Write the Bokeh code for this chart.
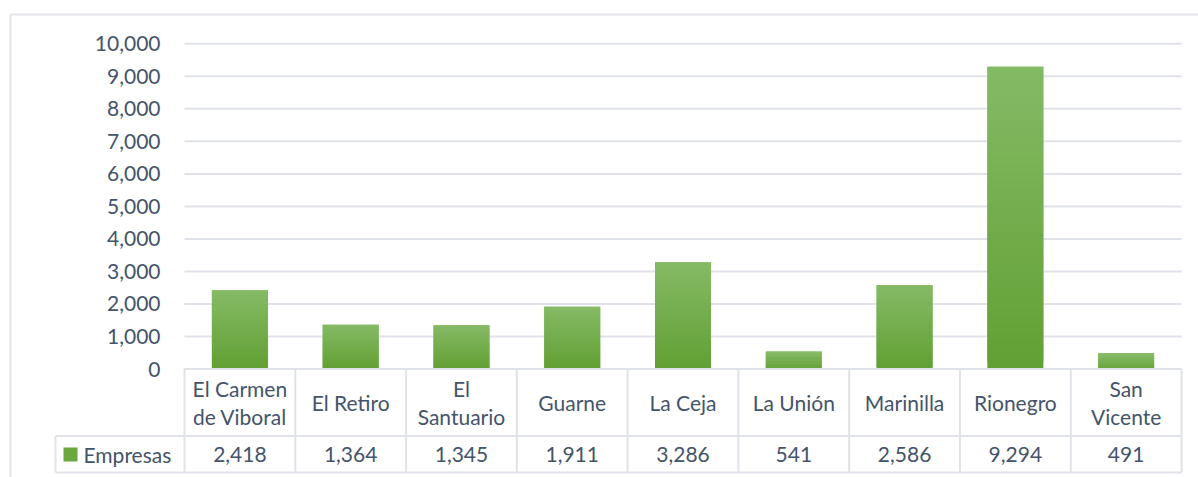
from bokeh.plotting import figure
from bokeh.models import Range1d, LinearAxis, FixedTicker, NumeralTickFormatter, ColumnDataSource
from bokeh.core.properties import value
from bokeh.embed import file_html
from bokeh.resources import INLINE

# ---------------- data ----------------
municipios = ["El Carmen\nde Viboral", "El Retiro", "El\nSantuario", "Guarne", "La Ceja",
              "La Unión", "Marinilla", "Rionegro", "San\nVicente"]
empresas = [2418, 1364, 1345, 1911, 3286, 541, 2586, 9294, 491]
serie = "Empresas"
y_ticks = [0, 1000, 2000, 3000, 4000, 5000, 6000, 7000, 8000, 9000, 10000]

# ---------------- layout / style ----------------
W, H = 1198, 477
CW = 110.78          # px per category
X0 = 184.0           # canvas x of first category edge
S = 0.03252          # px per unit on y
Y0 = 368.5           # canvas y of value 0
FONT = "Lato"
FS = "21px"
TXT = "#44546a"
LINE = "#dfe3e9"
TOP_C = (0x85, 0xBA, 0x66)
BOT_C = (0x61, 0xA0, 0x33)

def xd(px):  # canvas px -> data x
    return (px - X0) / CW

def yd(py):  # canvas py -> data y
    return (Y0 - py) / S

p = figure(width=W, height=H, output_backend="svg", toolbar_location=None,
           x_range=Range1d(xd(0), xd(W)), y_range=Range1d(yd(H), yd(0)),
           x_axis_type=None, y_axis_type=None, min_border=0,
           background_fill_color="white", border_fill_color="white")
p.outline_line_color = None
p.xgrid.visible = False
p.ygrid.visible = False

n = len(municipios)
xc = [i + 0.5 for i in range(n)]

# outer chart border
bx = xd(10)
by = yd(14)
p.segment(x0=[bx, bx], y0=[by, by], x1=[bx, xd(W + 5)], y1=[yd(H + 5), by],
          line_color="#e1e4ea", line_width=2)

# gridlines
p.segment(x0=[0] * len(y_ticks), x1=[n] * len(y_ticks), y0=y_ticks, y1=y_ticks,
          line_color=LINE, line_width=2)

# bars with vertical gradient (overlapping slices, no seams)
N = 40
hw = 28 / CW
L, R, B, T, C = [], [], [], [], []
for i, v in enumerate(empresas):
    for k in range(N):
        f = (k + 0.5) / N
        col = tuple(int(round(BOT_C[j] + (TOP_C[j] - BOT_C[j]) * f)) for j in range(3))
        L.append(xc[i] - hw)
        R.append(xc[i] + hw)
        B.append(v * k / N)
        T.append(min(v, v * (k + 2) / N))
        C.append("#%02x%02x%02x" % col)
p.quad(left=L, right=R, bottom=B, top=T, fill_color=C, line_color=None)

# y axis (labels)
ax = LinearAxis(fixed_location=0, ticker=FixedTicker(ticks=y_ticks),
                formatter=NumeralTickFormatter(format="0,0"))
ax.axis_line_color = None
ax.major_tick_line_color = None
ax.minor_tick_line_color = None
ax.major_tick_in = 0
ax.major_tick_out = 0
ax.major_label_standoff = 24
ax.major_label_text_font = FONT
ax.major_label_text_font_size = FS
ax.major_label_text_color = TXT
p.add_layout(ax, "left")

# data table below the chart
row_div = yd(435.5)
row_bot = yd(472)
leg_l = xd(55)

# horizontal table lines
p.segment(x0=[0, leg_l, leg_l], x1=[n, n, n], y0=[0, row_div, row_bot], y1=[0, row_div, row_bot],
          line_color=LINE, line_width=2)
# vertical table lines
vx = list(range(n + 1))
p.segment(x0=vx, x1=vx, y0=[0] * len(vx), y1=[row_bot] * len(vx), line_color=LINE, line_width=2)
p.segment(x0=[leg_l], x1=[leg_l], y0=[row_div], y1=[row_bot], line_color=LINE, line_width=2)

cat_y = yd(402)
val_y = yd(454)

src = ColumnDataSource(dict(x=xc, cat=municipios, val=[f"{v:,}" for v in empresas],
                            cy=[cat_y] * n, vy=[val_y] * n))
p.text(x="x", y="cy", text="cat", source=src, text_align="center", text_baseline="middle",
       text_font=value(FONT), text_font_size=FS, text_color=TXT, text_line_height=1.12)
p.text(x="x", y="vy", text="val", source=src, text_align="center", text_baseline="middle",
       text_font=value(FONT), text_font_size=FS, text_color=TXT)

# legend key in the table
p.scatter(x=[xd(70)], y=[val_y], marker="square", size=14,
          fill_color="#6aa83e", line_color=None)
p.text(x=[xd(83)], y=[val_y], text=[serie], text_align="left", text_baseline="middle",
       text_font=value(FONT), text_font_size=FS, text_color=TXT)

open("out.html", "w").write(file_html(p, INLINE))
